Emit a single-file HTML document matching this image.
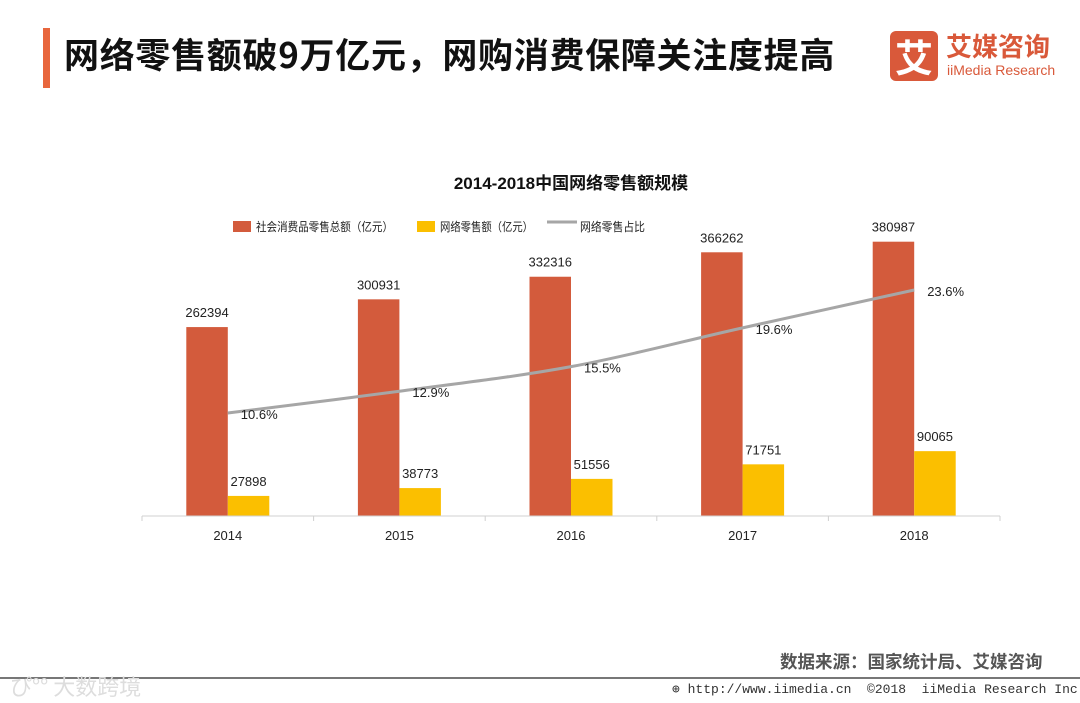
<!DOCTYPE html>
<html><head><meta charset="utf-8">
<style>
body{margin:0;background:#fff;width:1080px;height:703px;overflow:hidden;position:relative;font-family:"Liberation Sans","Noto Sans CJK SC",sans-serif;}
.abs{position:absolute;}
</style></head>
<body>
<div class="abs" style="left:43px;top:28px;width:7px;height:60px;background:#e8663d;"></div>
<div class="abs" style="left:64px;top:32px;font-size:35px;font-weight:bold;color:#111;letter-spacing:0.7px;font-family:'Noto Sans CJK SC',sans-serif;line-height:44px;">网络零售额破9万亿元，网购消费保障关注度提高</div>
<div class="abs" style="left:890px;top:31px;width:48px;height:50px;background:#d9593a;border-radius:6px;color:#fff;font-size:38px;font-weight:bold;text-align:center;line-height:50px;font-family:'Noto Sans CJK SC',sans-serif;">艾</div>
<div class="abs" style="left:946px;top:29px;font-size:26px;font-weight:bold;color:#d9593a;font-family:'Noto Sans CJK SC',sans-serif;line-height:34px;">艾媒咨询</div>
<div class="abs" style="left:947px;top:62px;font-size:14px;color:#d9593a;">iiMedia Research</div>

<svg class="abs" style="left:0;top:0" width="1080" height="703">
<text x="571" y="189" text-anchor="middle" font-size="17" font-weight="bold" fill="#111" font-family="Liberation Sans,Noto Sans CJK SC,sans-serif">2014-2018中国网络零售额规模</text>
<g font-size="12" fill="#222" font-family="Liberation Sans,Noto Sans CJK SC,sans-serif">
<rect x="233" y="221" width="18" height="11" fill="#d35b3c"/>
<text x="256" y="231" textLength="137" lengthAdjust="spacingAndGlyphs">社会消费品零售总额（亿元）</text>
<rect x="417" y="221" width="18" height="11" fill="#fbbf00"/>
<text x="440" y="231" textLength="93" lengthAdjust="spacingAndGlyphs">网络零售额（亿元）</text>
<line x1="547" y1="222" x2="577" y2="222" stroke="#a6a6a6" stroke-width="3"/>
<text x="580" y="231" textLength="65" lengthAdjust="spacingAndGlyphs">网络零售占比</text>
</g>
<g id="plot"></g>
</svg>

<div class="abs" style="left:780px;top:649px;font-size:17.5px;font-weight:bold;color:#555;font-family:'Noto Sans CJK SC',sans-serif;">数据来源：国家统计局、艾媒咨询</div>
<div class="abs" style="left:0;top:677px;width:1080px;height:2px;background:#777;"></div>
<div class="abs" style="left:10px;top:670px;font-size:22px;color:#ddd;font-family:'Noto Sans CJK SC',sans-serif;">ぴ°° 大数跨境</div>
<div class="abs" style="left:672px;top:682px;font-size:13px;color:#333;font-family:'Liberation Mono',monospace;">⊕ http://www.iimedia.cn &nbsp;©2018 &nbsp;iiMedia Research Inc</div>

<script>
const years=['2014','2015','2016','2017','2018'];
const totalSales=[262394,300931,332316,366262,380987];
const onlineSales=[27898,38773,51556,71751,90065];
const sharePct=[10.6,12.9,15.5,19.6,23.6];

const NS='http://www.w3.org/2000/svg';
const plot=document.getElementById('plot');
const x0=142,catW=171.6,base=516,barW=41.5;
const yVal=v=>base-v*0.00072;
const yPct=p=>413-(p-10.6)*9.46;
const xC=i=>x0+catW*(i+0.5);
function mk(t,a){const e=document.createElementNS(NS,t);for(const k in a)e.setAttribute(k,a[k]);plot.appendChild(e);return e;}
function txt(x,y,s,anchor){const e=mk('text',{x:x,y:y,'font-size':13,fill:'#222','text-anchor':anchor||'middle','font-family':'Liberation Sans,sans-serif'});e.textContent=s;return e;}

years.forEach((yr,i)=>{
  const c=xC(i);
  let r=mk('rect',{x:c-barW,y:yVal(totalSales[i]),width:barW,height:base-yVal(totalSales[i]),fill:'#d35b3c'});
  
  
  let r2=mk('rect',{x:c,y:yVal(onlineSales[i]),width:barW,height:base-yVal(onlineSales[i]),fill:'#fbbf00'});
  
  
  let t1=txt(c-barW/2,yVal(totalSales[i])-10,String(totalSales[i]));
  
  
  let t2=txt(c+barW/2,yVal(onlineSales[i])-10,String(onlineSales[i]));
  
  
  let t3=txt(c,540,yr);
  
  
});
let ax=mk('line',{x1:x0,y1:base,x2:x0+catW*5,y2:base,stroke:'#d0d0d0','stroke-width':1});


for(let i=0;i<=years.length;i++){
  let tk=mk('line',{x1:x0+catW*i,y1:base,x2:x0+catW*i,y2:base+5,stroke:'#d0d0d0'});
  
  
}
const pts=sharePct.map((p,i)=>[xC(i),yPct(p)]);
let d='M'+pts[0][0]+','+pts[0][1];
for(let i=0;i<pts.length-1;i++){
  const p0=pts[Math.max(i-1,0)],p1=pts[i],p2=pts[i+1],p3=pts[Math.min(i+2,pts.length-1)];
  const c1=[p1[0]+(p2[0]-p0[0])/6,p1[1]+(p2[1]-p0[1])/6];
  const c2=[p2[0]-(p3[0]-p1[0])/6,p2[1]-(p3[1]-p1[1])/6];
  d+=' C'+c1+' '+c2+' '+p2;
}
let ln=mk('path',{d:d,fill:'none',stroke:'#a6a6a6','stroke-width':3});


sharePct.forEach((p,i)=>{
  let t=txt(xC(i)+13,yPct(p)+6,p.toFixed(1)+'%','start');
  
  
});
</script>
</body></html>
